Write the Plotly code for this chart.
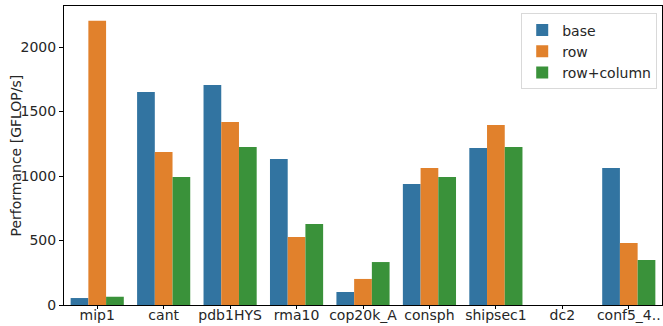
import plotly.graph_objects as go

categories = ["mip1", "cant", "pdb1HYS", "rma10", "cop20k_A", "consph", "shipsec1", "dc2", "conf5_4.."]
base = [54, 1651, 1705, 1132, 101, 938, 1217, 0, 1062]
row = [2204, 1186, 1419, 527, 202, 1062, 1395, 0, 481]
row_column = [64, 992, 1225, 628, 333, 992, 1225, 0, 349]
series_names = ["base", "row", "row+column"]
colors = ["#3274a1", "#e1812c", "#3a923a"]

fig = go.Figure()
for name, vals, c in zip(series_names, [base, row, row_column], colors):
    fig.add_trace(go.Bar(x=categories, y=vals, name=name, marker=dict(color=c, line=dict(width=0))))

font = dict(family="DejaVu Sans", size=14, color="#262626")
fig.update_layout(
    width=663, height=326,
    margin=dict(l=64, r=1, t=6, b=21),
    barmode="group", bargap=0.2, bargroupgap=0,
    plot_bgcolor="white", paper_bgcolor="white",
    font=font,
    legend=dict(x=0.992, y=0.975, xanchor="right", yanchor="top",
                bordercolor="#d9d9d9", borderwidth=1, bgcolor="rgba(255,255,255,0.8)",
                font=dict(family="DejaVu Sans", size=14, color="#262626"),
                tracegroupgap=0, itemwidth=30),
    xaxis=dict(showline=True, linecolor="black", linewidth=1, mirror=True, automargin=False,
               ticks="outside", ticklen=3, tickcolor="black", showgrid=False,
               ticklabelstandoff=-6, tickfont=font),
    yaxis=dict(range=[0, 2318], showline=True, linecolor="black", linewidth=1, mirror=True,
               automargin=False,
               ticks="outside", ticklen=4, tickcolor="black", showgrid=False, zeroline=False,
               tickvals=[0, 500, 1000, 1500, 2000], tickfont=font),
    annotations=[dict(text="Performance [GFLOP/s]", textangle=-90, xref="paper", yref="paper",
                      x=0, y=0.5, xshift=-49, showarrow=False, font=font,
                      xanchor="center", yanchor="middle")],
)
fig.write_html("out.html", config={"displayModeBar": False},
               post_script="document.body.style.margin='0';document.body.style.overflow='hidden';")
